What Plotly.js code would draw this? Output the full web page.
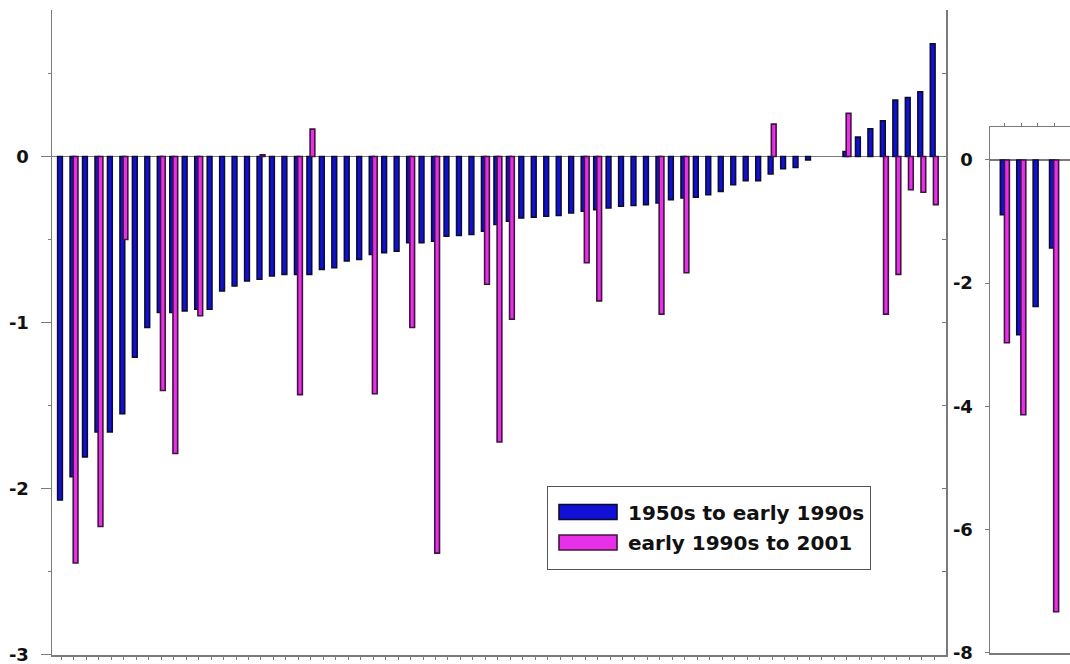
<!DOCTYPE html>
<html>
<head>
<meta charset="utf-8">
<script src="https://cdn.plot.ly/plotly-3.0.1.min.js"></script>
<style>html,body{margin:0;padding:0;background:#fff;}#chart{width:1070px;height:664px;}</style>
</head>
<body>
<div id="chart"></div>
<script>
// ---- Data ----
const seriesNames = ['1950s to early 1990s', 'early 1990s to 2001'];

// main panel: 71 unlabeled categories
const mainCategories = Array.from({length: 71}, (_, i) => i + 1);
const mainEarly = [
  -2.07, -1.93, -1.81, -1.66, -1.66, -1.55, -1.21, -1.03, -0.94, -0.94,
  -0.93, -0.92, -0.92, -0.81, -0.78, -0.75, -0.74, -0.72, -0.71, -0.71,
  -0.71, -0.68, -0.67, -0.63, -0.62, -0.59, -0.58, -0.57, -0.52, -0.52,
  -0.51, -0.48, -0.475, -0.47, -0.45, -0.41, -0.39, -0.37, -0.365, -0.36,
  -0.355, -0.34, -0.33, -0.32, -0.31, -0.30, -0.295, -0.29, -0.28, -0.26,
  -0.25, -0.245, -0.23, -0.21, -0.17, -0.145, -0.145, -0.105, -0.074, -0.066,
  -0.02, null, null, 0.03, 0.117, 0.167, 0.215, 0.34, 0.355, 0.39,
  0.68
];
const mainLate = [
  null, -2.45, null, -2.23, null, -0.50, null, null, -1.41, -1.79,
  null, -0.96, null, null, null, null, 0.01, null, null, -1.435,
  0.165, null, null, null, null, -1.43, null, null, -1.03, null,
  -2.39, null, null, null, -0.77, -1.72, -0.98, null, null, null,
  null, null, -0.64, -0.87, null, null, null, null, -0.95, null,
  -0.70, null, null, null, null, null, null, 0.195, null, null,
  null, null, null, 0.26, null, null, -0.95, -0.71, -0.20, -0.215,
  -0.29
];
const mainTickVals = [-3, -2, -1, 0];
const mainTickText = ['-3', '-2', '-1', '0'];

// side panel: 4 unlabeled categories
const sideCategories = [1, 2, 3, 4];
const sideEarly = [-0.89, -2.84, -2.38, -1.43];
const sideLate = [-2.97, -4.14, null, -7.34];
const sideTickVals = [-8, -6, -4, -2, 0];
const sideTickText = ['-8', '-6', '-4', '-2', '0'];

// ---- Styles ----
const blueFill = '#1010d8', blueLine = '#0c0c30';
const magFill = '#e830e8', magLine = '#401440';
const axisCol = '#7a7a7a';
const W = 1070, H = 664;
const tickFont = {family: 'DejaVu Sans', size: 18, color: '#111', weight: 'bold'};

const traces = [
  {type: 'bar', name: seriesNames[0], x: mainCategories, y: mainEarly, xaxis: 'x', yaxis: 'y',
   width: 0.38, offset: -0.31, marker: {color: blueFill, line: {color: blueLine, width: 1.6}},
   hoverinfo: 'x+y'},
  {type: 'bar', name: seriesNames[1], x: mainCategories, y: mainLate, xaxis: 'x', yaxis: 'y',
   width: 0.38, offset: -0.06, marker: {color: magFill, line: {color: magLine, width: 1.6}},
   hoverinfo: 'x+y'},
  {type: 'bar', name: seriesNames[0], x: sideCategories, y: sideEarly, xaxis: 'x2', yaxis: 'y2',
   width: 0.30, offset: -0.275, marker: {color: blueFill, line: {color: blueLine, width: 1.6}},
   showlegend: false, hoverinfo: 'x+y'},
  {type: 'bar', name: seriesNames[1], x: sideCategories, y: sideLate, xaxis: 'x2', yaxis: 'y2',
   width: 0.30, offset: -0.025, marker: {color: magFill, line: {color: magLine, width: 1.6}},
   showlegend: false, hoverinfo: 'x+y'},
  {type: 'scatter', mode: 'markers', x: [null], y: [null], xaxis: 'x', yaxis: 'y3',
   showlegend: false, hoverinfo: 'skip'}
];

const layout = {
  width: W, height: H,
  margin: {l: 0, r: 0, t: 0, b: 0},
  paper_bgcolor: '#ffffff', plot_bgcolor: 'rgba(0,0,0,0)',
  barmode: 'overlay',
  font: {family: 'DejaVu Sans', size: 18, color: '#111'},
  xaxis: {
    domain: [52 / W, 946 / W], range: [0.238, 71.947], anchor: 'y',
    showgrid: false, zeroline: false, showline: true, linecolor: axisCol, linewidth: 1.5,
    ticks: 'outside', ticklen: 3, tickcolor: axisCol, tickvals: mainCategories,
    showticklabels: false, fixedrange: true
  },
  yaxis: {
    domain: [9 / H, 654 / H], range: [-3.004, 0.883], anchor: 'x',
    showgrid: false, zeroline: true, zerolinecolor: axisCol, zerolinewidth: 1.5,
    showline: true, linecolor: axisCol, linewidth: 1.5,
    ticks: 'outside', ticklen: 10, tickcolor: axisCol,
    tickmode: 'array', tickvals: mainTickVals, ticktext: mainTickText,
    tickfont: tickFont, ticklabelstandoff: 8, ticklabeloverflow: 'allow',
    minor: {tickmode: 'linear', tick0: 0, dtick: 0.5, ticks: 'outside', ticklen: 3, tickcolor: axisCol},
    fixedrange: true
  },
  yaxis3: {
    overlaying: 'y', side: 'right', anchor: 'x', range: [-3.004, 0.883],
    showgrid: false, zeroline: false, showline: true, linecolor: axisCol, linewidth: 1.5,
    ticks: 'inside', ticklen: 4, tickcolor: axisCol, tick0: 0, dtick: 0.5,
    showticklabels: false, fixedrange: true
  },
  xaxis2: {
    domain: [990 / W, 1], range: [0.094, 4.97], anchor: 'y2', side: 'top',
    showgrid: false, zeroline: false, showline: true, mirror: true, linecolor: axisCol, linewidth: 1.5,
    ticks: 'outside', ticklen: 3, tickcolor: axisCol, tickvals: sideCategories,
    showticklabels: false, fixedrange: true
  },
  yaxis2: {
    domain: [11 / H, 537 / H], range: [-8.01, 0.536], anchor: 'x2',
    showgrid: false, zeroline: true, zerolinecolor: axisCol, zerolinewidth: 1.5,
    showline: true, linecolor: axisCol, linewidth: 1.5,
    ticks: 'outside', ticklen: 4, tickcolor: axisCol,
    tickmode: 'array', tickvals: sideTickVals, ticktext: sideTickText,
    tickfont: tickFont, ticklabelstandoff: 8, ticklabeloverflow: 'allow', fixedrange: true
  },
  showlegend: true,
  legend: {
    x: 547 / W, y: 1 - 486 / H, xanchor: 'left', yanchor: 'top',
    bgcolor: '#ffffff', bordercolor: '#555555', borderwidth: 1,
    font: {family: 'DejaVu Sans', size: 20, color: '#111', weight: 'bold'},
    itemwidth: 70, traceorder: 'normal'
  }
};

Plotly.newPlot('chart', traces, layout, {displayModeBar: false, staticPlot: true}).then(function () {
  // long rectangular legend swatches, as in the original
  document.querySelectorAll('.legend .legendpoints path').forEach(function (p) {
    p.setAttribute('d', 'M29,7.5H-29V-7.5H29Z');
  });
  // a little more vertical room in the legend box, as in the original
  const bg = document.querySelector('.legend .bg');
  if (bg) {
    const h = parseFloat(bg.getAttribute('height'));
    bg.setAttribute('height', h + 14);
  }
  document.querySelectorAll('.legend .traces').forEach(function (g, i) {
    const t = g.getAttribute('transform') || '';
    const m = /translate\(([-\d.]+),\s*([-\d.]+)\)/.exec(t);
    if (m) {
      const dy = i === 0 ? 5.5 : 7;
      g.setAttribute('transform', 'translate(' + m[1] + ',' + (parseFloat(m[2]) + dy) + ')');
    }
  });
});
</script>
</body>
</html>
